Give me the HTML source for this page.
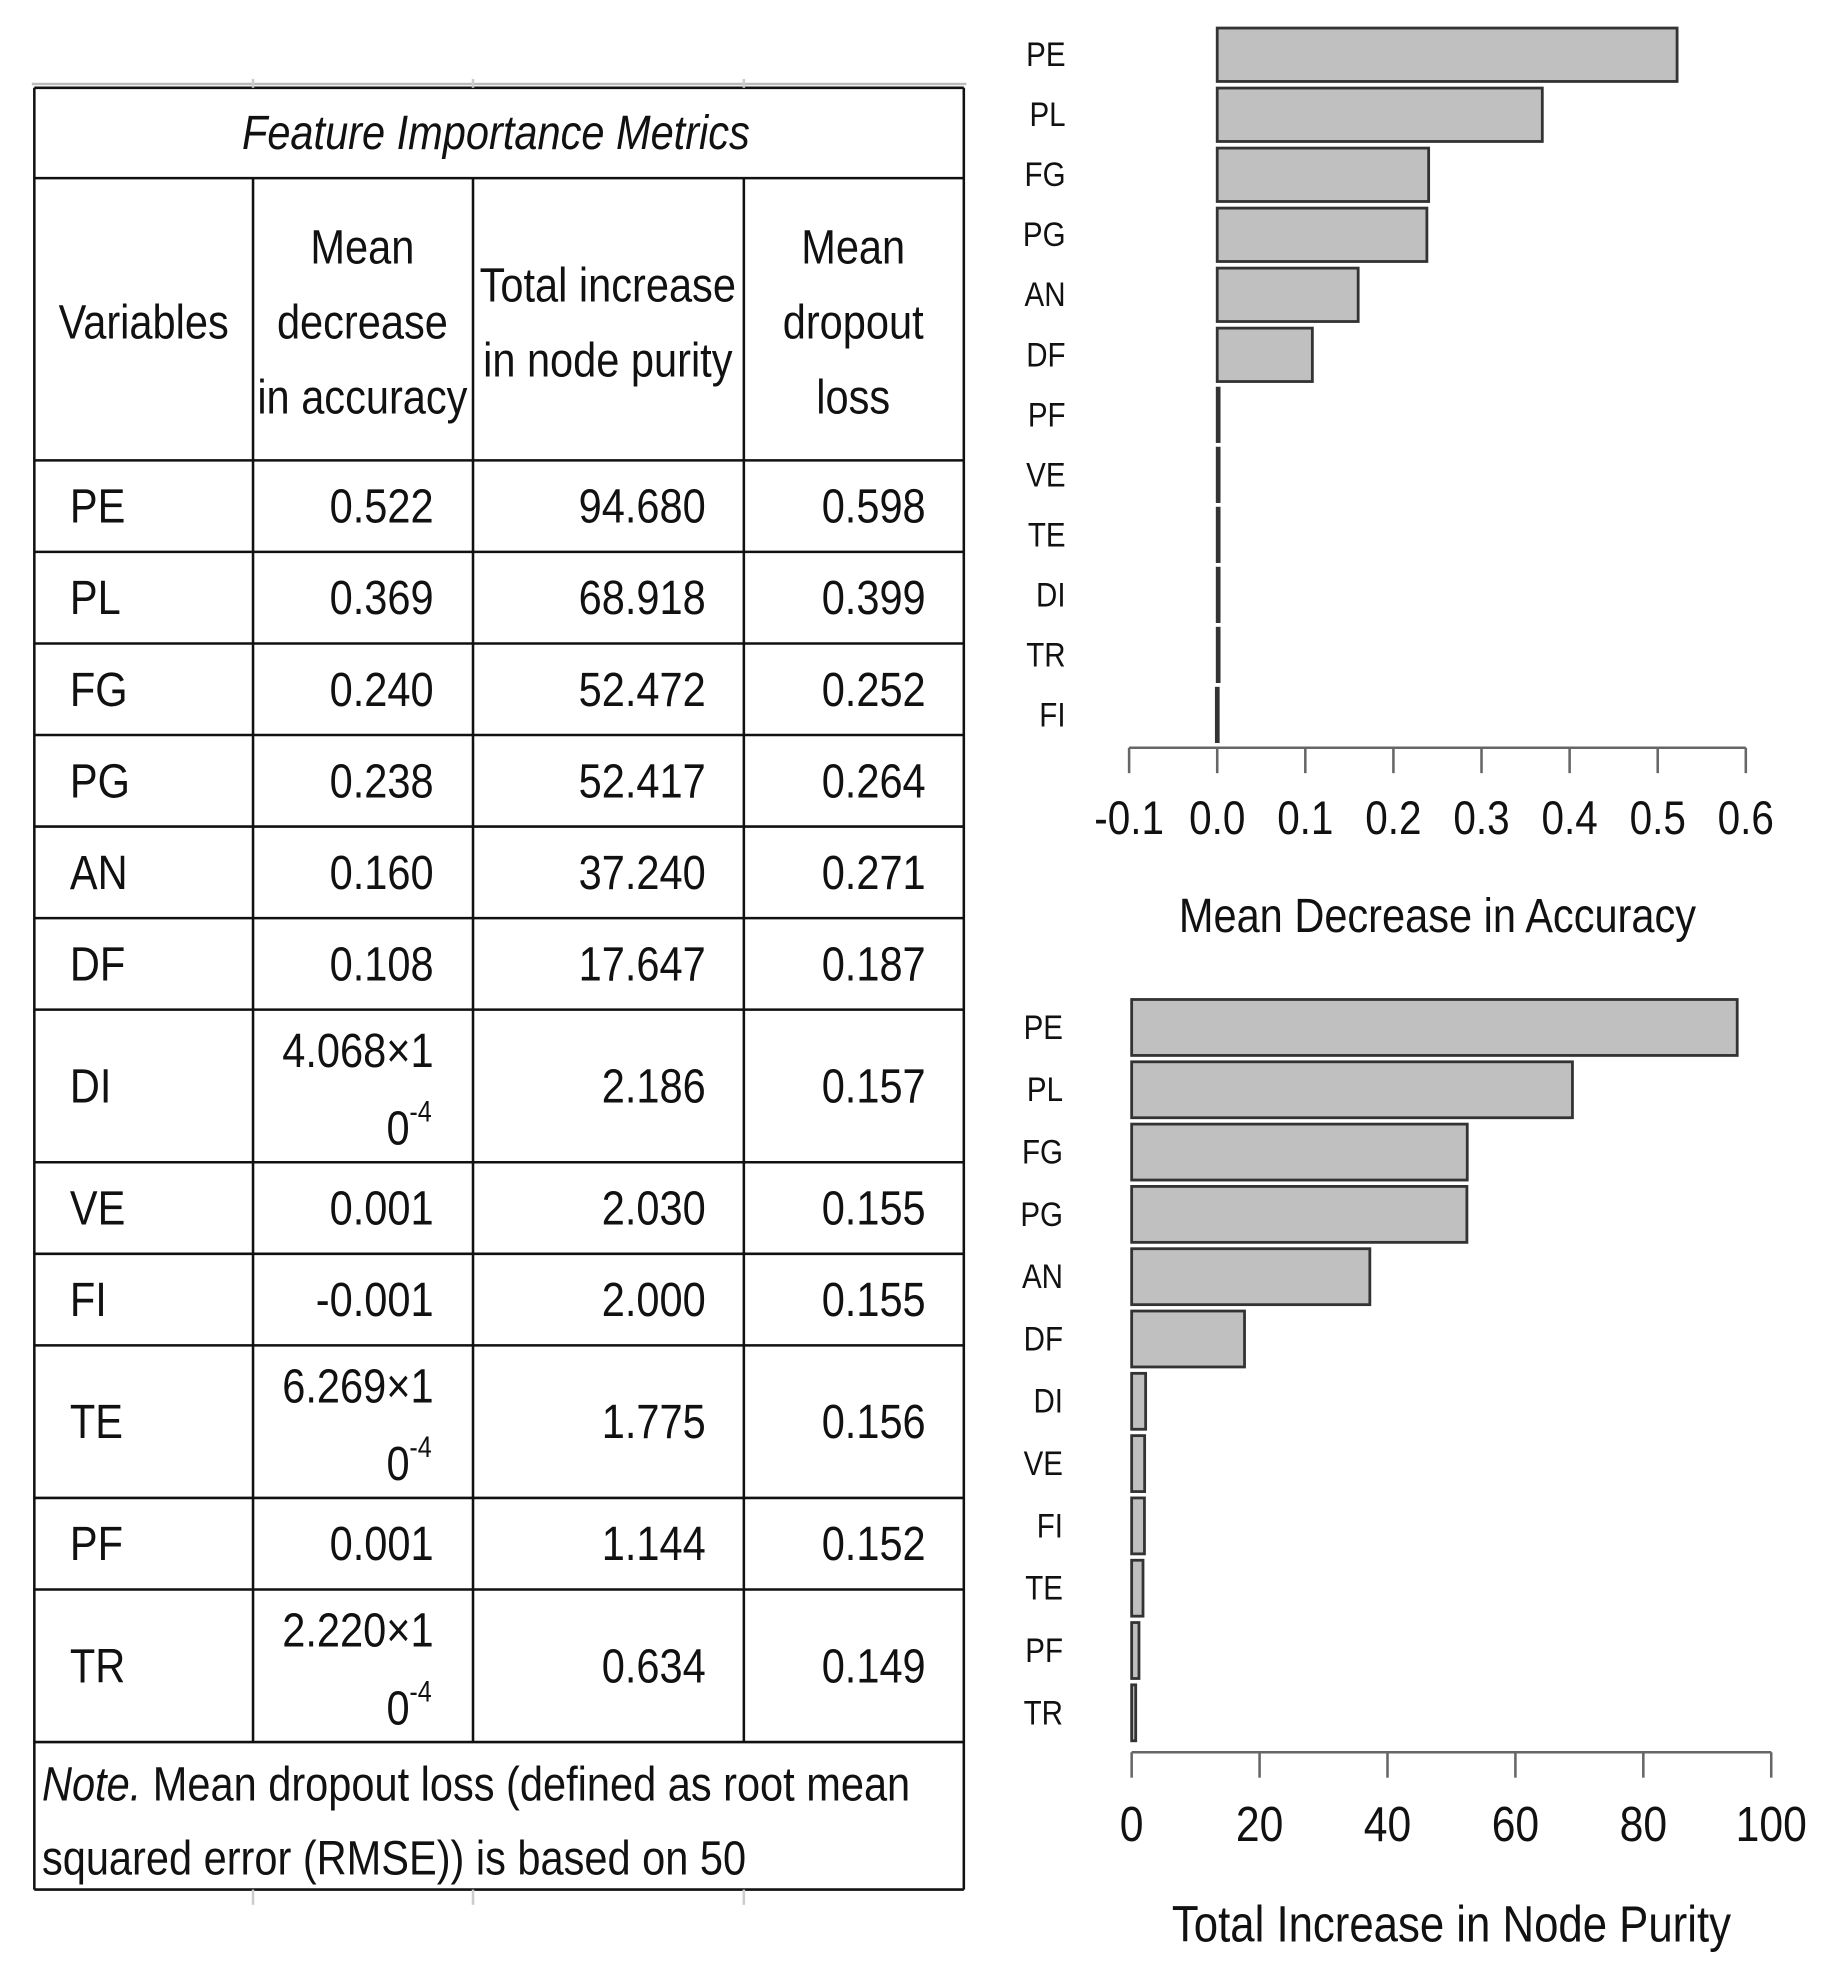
<!DOCTYPE html>
<html><head><meta charset="utf-8">
<style>
html,body{margin:0;padding:0;background:#fff;}
svg{display:block;}
text{font-family:"Liberation Sans Narrow","Liberation Sans",sans-serif;fill:#111;}
</style></head>
<body>
<svg id="fig" width="1831" height="1985" viewBox="0 0 1440 1561" xmlns="http://www.w3.org/2000/svg">
<g id="table"></g>
<g id="chart1"></g>
<g id="chart2"></g>
</svg>
<script>
// Chart 1 data
const accCategories = ["PE","PL","FG","PG","AN","DF","PF","VE","TE","DI","TR","FI"];
const accValues = [0.522,0.369,0.240,0.238,0.160,0.108,0.001,0.001,0.0006,0.0004,0.0002,-0.001];
const accTicks = ["-0.1","0.0","0.1","0.2","0.3","0.4","0.5","0.6"];
// Chart 2 data
const purCategories = ["PE","PL","FG","PG","AN","DF","DI","VE","FI","TE","PF","TR"];
const purValues = [94.680,68.918,52.472,52.417,37.240,17.647,2.186,2.030,2.000,1.775,1.144,0.634];
const purTicks = ["0","20","40","60","80","100"];
// Table data
const tblVars = ["PE","PL","FG","PG","AN","DF","DI","VE","FI","TE","PF","TR"];
const tblAcc = ["0.522","0.369","0.240","0.238","0.160","0.108","4.068×1|0-4","0.001","-0.001","6.269×1|0-4","0.001","2.220×1|0-4"];
const tblPur = ["94.680","68.918","52.472","52.417","37.240","17.647","2.186","2.030","2.000","1.775","1.144","0.634"];
const tblLoss = ["0.598","0.399","0.252","0.264","0.271","0.187","0.157","0.155","0.155","0.156","0.152","0.149"];

const NS="http://www.w3.org/2000/svg";
const SX=0.86;
function mk(parent,tag,attrs,txt){const e=document.createElementNS(NS,tag);for(const k in attrs)e.setAttribute(k,attrs[k]);if(txt!==undefined)e.textContent=txt;
 if(tag==='text'){const x=parseFloat(attrs.x);e.setAttribute('transform','translate('+x+',0) scale('+SX+',1) translate('+(-x)+',0)');}
 parent.appendChild(e);return e;}

// ---------- Table ----------
const T=document.getElementById('table');
const FS=38;
const cols=[27,199,372,585,758];
const rowB=[362,434,506,578,650,722,794,914,986,1058,1178,1250,1370];
function hl(y,w){const l=mk(T,'line',{x1:27,x2:758,y1:y,y2:y,stroke:'#111','stroke-width':w||2});}
mk(T,'line',{x1:25,x2:760,y1:66,y2:66,stroke:'#bbb','stroke-width':2});
hl(69);hl(140);hl(1486);
for(let i=0;i<rowB.length;i++)hl(rowB[i]);
mk(T,'line',{x1:27,x2:27,y1:69,y2:1486,stroke:'#111','stroke-width':2});
mk(T,'line',{x1:758,x2:758,y1:69,y2:1486,stroke:'#111','stroke-width':2});
for(let c=1;c<4;c++){mk(T,'line',{x1:cols[c],x2:cols[c],y1:140,y2:1370,stroke:'#111','stroke-width':2});
 mk(T,'line',{x1:cols[c],x2:cols[c],y1:1486,y2:1498,stroke:'#ccc','stroke-width':2});
 mk(T,'line',{x1:cols[c],x2:cols[c],y1:62,y2:69,stroke:'#ccc','stroke-width':2});}
let t=mk(T,'text',{x:390,y:117,'font-size':FS,'font-style':'italic','text-anchor':'middle'},'Feature Importance Metrics');

function hdr(x,lines,y0,name){lines.forEach((s,i)=>{const e=mk(T,'text',{x:x,y:y0+i*59,'font-size':FS,'text-anchor':'middle'},s);});}
hdr(113,["Variables"],266,'header-variables');
hdr(285,["Mean","decrease","in accuracy"],207,'header-accuracy');
hdr(478,["Total increase","in node purity"],237,'header-purity');
hdr(671,["Mean","dropout","loss"],207,'header-loss');
for(let i=0;i<tblVars.length;i++){
 const top=i==0?362:rowB[i], bot=rowB[i+1], mid=(top+bot)/2+13;
 let e=mk(T,'text',{x:55,y:mid,'font-size':FS},tblVars[i]);
 const a=tblAcc[i];
 if(a.indexOf('|')>=0){const p=a.split('|');
  e=mk(T,'text',{x:341,y:top+45,'font-size':FS,'text-anchor':'end'},p[0]);
  e=mk(T,'text',{x:304,y:top+106,'font-size':FS},'0');
  e=mk(T,'text',{x:322,y:top+88,'font-size':23},'-4');
 } else {e=mk(T,'text',{x:341,y:mid,'font-size':FS,'text-anchor':'end'},a);}
 e=mk(T,'text',{x:555,y:mid,'font-size':FS,'text-anchor':'end'},tblPur[i]);
 e=mk(T,'text',{x:728,y:mid,'font-size':FS,'text-anchor':'end'},tblLoss[i]);
}
let n=mk(T,'text',{x:33,y:1416,'font-size':FS});n.innerHTML='<tspan font-style="italic">Note.</tspan>  Mean dropout loss (defined as root mean';

n=mk(T,'text',{x:33,y:1474,'font-size':FS},'squared error (RMSE)) is based on 50');


// ---------- Bar chart helper ----------
function drawChart(G,cats,vals,ticks,x0,x1,vmin,vmax,rowTop,rowStep,barH,axisY,labX,tickY,title,titleY,tickFs,labFs,titleFs){
 const xs=v=>x0+(v-vmin)/(vmax-vmin)*(x1-x0);
 for(let i=0;i<cats.length;i++){
  const yc=rowTop+i*rowStep;
  const a=xs(0),b=xs(vals[i]);
  const r=mk(G,'rect',{x:Math.min(a,b),y:yc-barH/2,width:Math.max(Math.abs(b-a),1.5),height:barH,fill:'#c0c0c0',stroke:'#333','stroke-width':2.2});
  
  
  const l=mk(G,'text',{x:labX,y:yc+9,'font-size':labFs,'text-anchor':'end'},cats[i]);
  
  
 }
 const ax=mk(G,'line',{x1:x0,x2:x1,y1:axisY,y2:axisY,stroke:'#666','stroke-width':2});
 
 for(let k=0;k<ticks.length;k++){
  const v=parseFloat(ticks[k]),x=xs(v);
  mk(G,'line',{x1:x,x2:x,y1:axisY,y2:axisY+20,stroke:'#666','stroke-width':2});
  const tl=mk(G,'text',{x:x,y:tickY,'font-size':tickFs,'text-anchor':'middle'},ticks[k]);
  
  
 }
 const tt=mk(G,'text',{x:(x0+x1)/2,y:titleY,'font-size':titleFs,'text-anchor':'middle'},title);
 
 
}
drawChart(document.getElementById('chart1'),accCategories,accValues,accTicks,888,1373,-0.1,0.6,43,47.2,42,588,838,656,'Mean Decrease in Accuracy',733,37,27,38);
drawChart(document.getElementById('chart2'),purCategories,purValues,purTicks,890,1393,0,100,808,49,44,1378,836,1448,'Total Increase in Node Purity',1527,39,27,40);
</script>
</body></html>
